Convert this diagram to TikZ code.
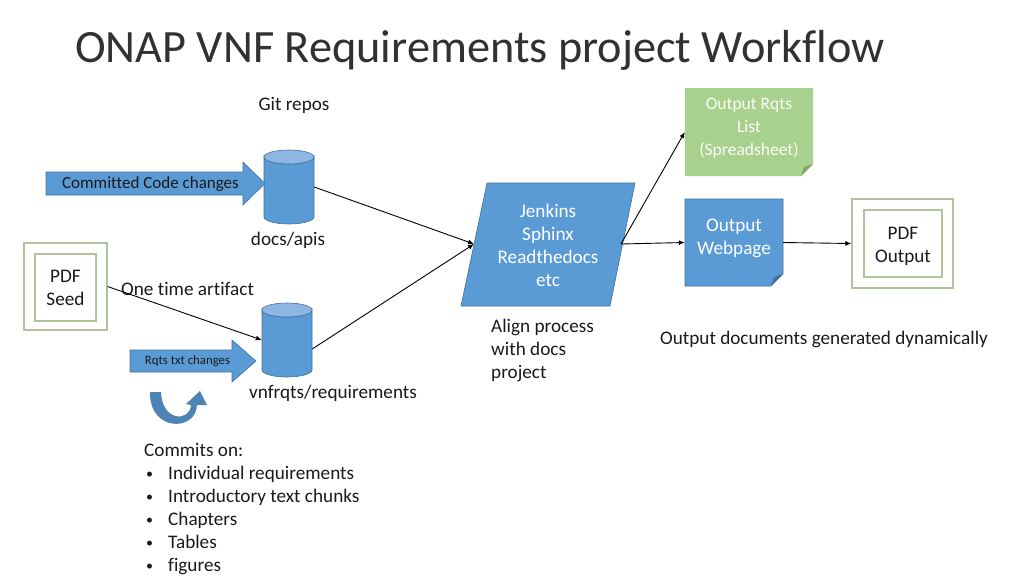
\documentclass[tikz,border=0pt]{standalone}
\usepackage{fontspec}
\setmainfont{Carlito}[Ligatures=NoCommon]
\usetikzlibrary{arrows.meta}
\definecolor{obl}{HTML}{5B9BD5}
\definecolor{obld}{HTML}{41719C}
\definecolor{obllt}{HTML}{8DB7E2}
\definecolor{ogr}{HTML}{A9D18E}
\definecolor{ogrd}{HTML}{7FA863}
\definecolor{pdfb}{HTML}{AFC49A}
\definecolor{txt}{HTML}{1A1A1A}
\newcommand{\smbul}{\hspace*{2pt}\makebox[22pt][l]{\raisebox{1pt}{\fontsize{14}{14}\selectfont •}}}
\begin{document}
\begin{tikzpicture}[x=1pt,y=-1pt,
  body/.style={font=\fontsize{19.2}{23}\selectfont, text=txt, inner sep=0pt},
  lbl/.style={font=\fontsize{19.2}{23}\selectfont, text=white, inner sep=0pt, align=center},
  box/.style={inner sep=0pt},
  conn/.style={draw=black, line width=0.9pt, -{Latex[length=6pt,width=5pt]}},
  blockarrow/.style={fill=obl, draw=obld, line width=0.6pt},
  framebox/.style={draw=pdfb, line width=1.2pt}
]
\useasboundingbox[fill=white] (0,0) rectangle (1024,576);

% title
\node[anchor=base west, inner sep=0pt, text=txt!90!white, font=\fontsize{46.3}{52}\selectfont] (title) at (75,62) {ONAP VNF Requirements project Workflow};

\node[body] (git) at (294,105) {Git repos};

% cylinders
\node[box, minimum width=50pt, minimum height=74pt] (db1) at (289,187) {};
\path[draw=obld, fill=obl, line width=0.6pt] (264,157) -- (264,217) arc[start angle=180, end angle=0, x radius=25, y radius=7] -- (314,157) arc[start angle=0, end angle=180, x radius=25, y radius=7] -- cycle;
\draw[obld, fill=obllt, line width=0.6pt] (289,157) ellipse[x radius=25, y radius=7];
\node[body] (db1l) at (288,240) {docs/apis};

\node[box, minimum width=50pt, minimum height=74pt] (db2) at (287,340) {};
\path[draw=obld, fill=obl, line width=0.6pt] (262,310) -- (262,370) arc[start angle=180, end angle=0, x radius=25, y radius=7] -- (312,310) arc[start angle=0, end angle=180, x radius=25, y radius=7] -- cycle;
\draw[obld, fill=obllt, line width=0.6pt] (287,310) ellipse[x radius=25, y radius=7];
\node[body] (db2l) at (333,393) {vnfrqts/requirements};

% block arrows
\path[blockarrow] (46,172) -- (243,172) -- (243,162) -- (265,183.5) -- (243,205) -- (243,195) -- (46,195) -- cycle;
\node[inner sep=0pt, text=txt, font=\fontsize{17}{20}\selectfont] (cc) at (150.5,184) {Committed Code changes};
\path[blockarrow] (130,350) -- (232,350) -- (232,340) -- (256,361) -- (232,382) -- (232,372) -- (130,372) -- cycle;
\node[inner sep=0pt, text=txt, font=\fontsize{12.8}{15}\selectfont] (rt) at (187.5,361) {Rqts txt changes};

% PDF seed
\node[box, framebox, minimum width=83pt, minimum height=87pt] (seed) at (65.5,286.5) {};
\node[box, framebox, minimum width=61pt, minimum height=67pt, body, align=center] (seedin) at (65.5,287.5) {PDF\\Seed};
\node[body, anchor=west] (ota) at (121,289) {One time artifact};

% U-turn arrow
\fill[obl!85!black] (150,392) .. controls (149,432) and (196,432) .. (197,405) -- (207,405) -- (200,391) -- (186,404) -- (191,405) .. controls (190,422) and (162,422) .. (161,392) -- cycle;

% commits list
\node[body, anchor=north west, align=left] (commits) at (144,443) {Commits on:\\
\smbul Individual requirements\\
\smbul Introductory text chunks\\
\smbul Chapters\\
\smbul Tables\\
\smbul figures};

% parallelogram
\path[blockarrow] (487,183) -- (635,183) -- (610,306) -- (461,306) -- cycle;
\node[lbl] (proc) at (548,245) {Jenkins\\Sphinx\\Readthedocs\\etc};
\coordinate (procL) at (474,244);
\coordinate (procR) at (621,244);

\node[body, anchor=north west, align=left] (align) at (491,319) {Align process\\with docs\\project};

% output rqts list
\node[box, minimum width=128pt, minimum height=88pt] (rq) at (749,132) {};
\path[fill=ogr] (685,88) -- (813,88) -- (813,164) -- (801,176) -- (685,176) -- cycle;
\path[fill=ogrd] (813,164) -- (801,176) -- (804,167) -- cycle;
\node[lbl, text=white!95!ogr, font=\fontsize{17.5}{23}\selectfont] (rqt) at (749,128) {Output Rqts\\List\\(Spreadsheet)};

% output webpage
\node[box, minimum width=98pt, minimum height=87pt] (web) at (734,242.5) {};
\path[blockarrow] (685,199) -- (783,199) -- (783,274) -- (771,286) -- (685,286) -- cycle;
\path[fill=obld] (783,274) -- (771,286) -- (774,277) -- cycle;
\node[lbl] (webt) at (734,238.5) {Output\\Webpage};

% PDF output
\node[box, framebox, minimum width=101pt, minimum height=89pt] (pdfo) at (902.5,243.5) {};
\node[box, framebox, minimum width=78pt, minimum height=67pt] (pdfoin) at (903,243.5) {};
\node[body, align=center] (pdfot) at (903,246.5) {PDF\\Output};

\node[body] (dyn) at (824,339) {Output documents generated dynamically};

% connectors
\draw[conn] (db1.east) -- (procL);
\draw[conn] ([yshift=-9pt]db2.east) -- (procL);
\draw[conn] (seed.east) -- (db2.west);
\draw[conn] (procR) -- (rq.west);
\draw[conn] (procR) -- (web.west);
\draw[conn] (web.east) -- (pdfo.west);
\end{tikzpicture}
\end{document}
